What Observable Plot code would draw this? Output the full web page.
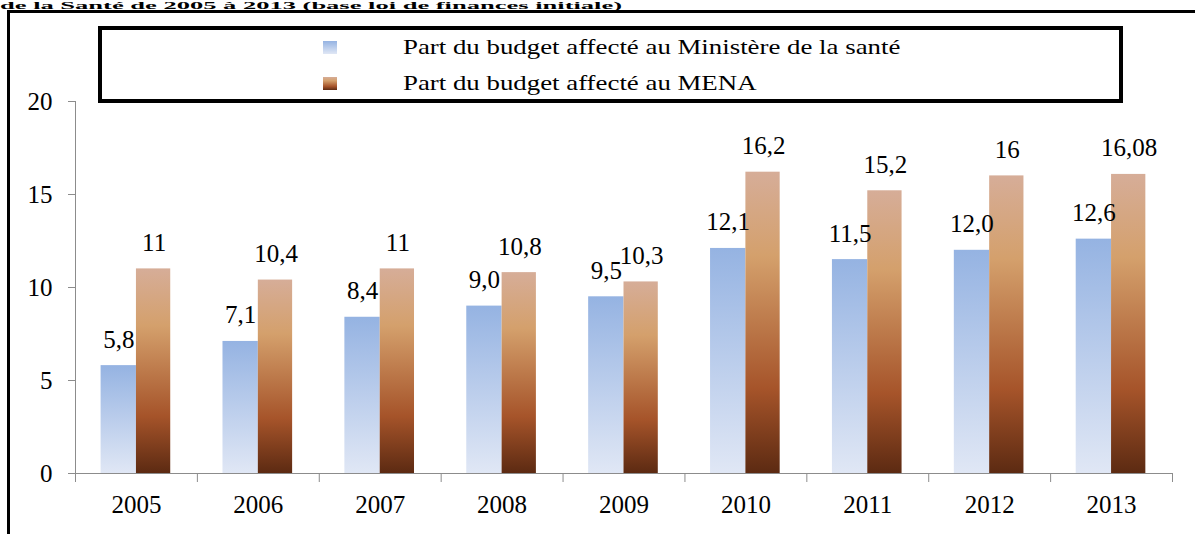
<!DOCTYPE html>
<html>
<head>
<meta charset="utf-8">
<script src="https://cdn.jsdelivr.net/npm/d3@7"></script>
<script src="https://cdn.jsdelivr.net/npm/@observablehq/plot@0.6"></script>
<style>
  html, body { margin: 0; padding: 0; background: white; }
  #wrap { position: relative; width: 1195px; height: 534px; overflow: hidden; background: white; font-family: "Liberation Serif", "Times New Roman", serif; }
  #title { position: absolute; left: 0; top: 1px; font-family: "Liberation Serif", serif; font-size: 10px; line-height: 10px; font-weight: bold; white-space: nowrap; transform: scaleX(2.65); transform-origin: left top; }
  #frame { position: absolute; left: 7px; top: 10px; width: 1300px; height: 700px; border-left: 3px solid black; border-top: 3px solid black; }
  #chart { position: absolute; left: 0; top: 0; }
  #legend { position: absolute; left: 98px; top: 26px; width: 1025px; height: 77px; border: 4px solid black; box-sizing: border-box; background: white; }
  .sw { position: absolute; left: 221px; width: 14px; height: 13px; }
  .lt { position: absolute; left: 301px; font-family: "Liberation Serif", "Times New Roman", serif; font-size: 22px; white-space: nowrap; transform: scaleX(1.22); transform-origin: left center; }
</style>
</head>
<body>
<div id="wrap">
  <div id="title">de la Santé de 2005 à 2013 (base loi de finances initiale)</div>
  <div id="frame"></div>
  <div id="chart"></div>
  <div id="legend"></div>
</div>
<script>
const years = [2005, 2006, 2007, 2008, 2009, 2010, 2011, 2012, 2013];
const health = [5.8, 7.1, 8.4, 9.0, 9.5, 12.1, 11.5, 12.0, 12.6];
const mena = [11, 10.4, 11, 10.8, 10.3, 16.2, 15.2, 16, 16.08];
const healthLabels = ["5,8", "7,1", "8,4", "9,0", "9,5", "12,1", "11,5", "12,0", "12,6"];
const menaLabels = ["11", "10,4", "11", "10,8", "10,3", "16,2", "15,2", "16", "16,08"];
const yTicks = [0, 5, 10, 15, 20];
const seriesNames = ["Part du budget affecté au Ministère de la santé", "Part du budget affecté au MENA"];

const data = years.map((year, i) => ({year, health: health[i], mena: mena[i], hl: healthLabels[i], ml: menaLabels[i]}));
const boundaries = years.map(y => y - 0.5).concat([years[years.length - 1] + 0.5]);
const bw = 0.29;

const plot = Plot.plot({
  width: 1195,
  height: 534,
  marginLeft: 75,
  marginRight: 23,
  marginTop: 101,
  marginBottom: 61,
  style: {fontFamily: "'Liberation Serif', 'Times New Roman', serif", fontSize: "25px", background: "transparent", color: "black"},
  x: {type: "linear", domain: [boundaries[0], boundaries[boundaries.length - 1]]},
  y: {domain: [0, 20]},
  marks: [
    Plot.rectY(data, {x1: d => d.year - bw, x2: d => d.year, y: "health", fill: "url(#gradBlue)"}),
    Plot.rectY(data, {x1: d => d.year, x2: d => d.year + bw * 0.97, y: "mena", fill: "url(#gradBrown)"}),
    Plot.frame({anchor: "left", stroke: "#8c8c8c"}),
    Plot.frame({anchor: "bottom", stroke: "#8c8c8c"}),
    Plot.axisY({ticks: yTicks, tickSize: 7, tickPadding: 16, stroke: "#8c8c8c", fill: "black", label: null}),
    Plot.axisX({ticks: boundaries, tickSize: 9, tickFormat: () => "", stroke: "#8c8c8c", label: null}),
    Plot.axisX({ticks: years, tickSize: 0, tickPadding: 22, tickFormat: d => String(d), fill: "black", label: null}),
    Plot.text(data, {x: d => d.year - bw / 2, y: "health", text: "hl", dy: -18, lineAnchor: "bottom", fill: "black"}),
    Plot.text(data, {x: d => d.year + bw / 2, y: "mena", text: "ml", dy: -18, lineAnchor: "bottom", fill: "black"})
  ]
});

const svg = d3.select(plot);
const defs = svg.insert("defs", ":first-child");
const gb = defs.append("linearGradient").attr("id", "gradBlue").attr("x1", 0).attr("y1", 0).attr("x2", 0).attr("y2", 1);
gb.append("stop").attr("offset", "0%").attr("stop-color", "#95b3e2");
gb.append("stop").attr("offset", "100%").attr("stop-color", "#e0e7f5");
const gr = defs.append("linearGradient").attr("id", "gradBrown").attr("x1", 0).attr("y1", 0).attr("x2", 0).attr("y2", 1);
gr.append("stop").attr("offset", "0%").attr("stop-color", "#d6ad98");
gr.append("stop").attr("offset", "28%").attr("stop-color", "#d4a06c");
gr.append("stop").attr("offset", "72%").attr("stop-color", "#a6542a");
gr.append("stop").attr("offset", "100%").attr("stop-color", "#5c2a12");

document.getElementById("chart").appendChild(plot);

const legend = document.getElementById("legend");
const swatchBg = [
  "linear-gradient(to bottom, #95b3e2, #e0e7f5)",
  "linear-gradient(to bottom, #d6ad98, #d4a06c 28%, #a6542a 72%, #5c2a12)"
];
const rowTops = [11, 47];
seriesNames.forEach((name, i) => {
  const sw = document.createElement("div");
  sw.className = "sw";
  sw.style.top = rowTops[i] + "px";
  sw.style.background = swatchBg[i];
  legend.appendChild(sw);
  const t = document.createElement("div");
  t.className = "lt";
  t.style.top = (rowTops[i] - 9) + "px";
  t.style.lineHeight = "30px";
  t.textContent = name;
  legend.appendChild(t);
});
</script>
</body>
</html>
